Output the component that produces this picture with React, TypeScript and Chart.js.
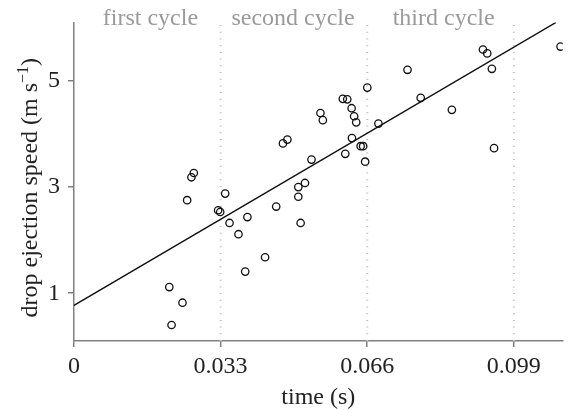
import React, { useEffect, useRef } from 'react';
import { Chart, registerables } from 'chart.js';

Chart.register(...registerables);

// ---- data ----
const timeS = [
  0.02145, 0.02196, 0.02442, 0.02547, 0.02643, 0.02697, 0.03244, 0.03291, 0.03403, 0.03501,
  0.03702, 0.03854, 0.03903, 0.04301, 0.04551, 0.04703, 0.04803, 0.05049, 0.05049, 0.05101,
  0.05199, 0.05346, 0.05547, 0.05601, 0.0605, 0.06151, 0.06106, 0.06249, 0.06256, 0.06305,
  0.06352, 0.06452, 0.06508, 0.06553, 0.06602, 0.06852, 0.07507, 0.07804, 0.08505, 0.09205,
  0.09301, 0.09406, 0.09455, 0.10952,
];
const speed = [
  1.116, 0.401, 0.821, 2.752, 3.183, 3.264, 2.562, 2.53, 2.876, 2.323,
  2.111, 1.407, 2.434, 1.677, 2.632, 3.821, 3.893, 2.998, 2.817, 2.323,
  3.076, 3.516, 4.394, 4.259, 4.66, 4.651, 3.625, 4.484, 3.921, 4.333,
  4.218, 3.769, 3.769, 3.477, 4.872, 4.194, 5.207, 4.68, 4.453, 5.59,
  5.516, 5.226, 3.732, 5.645,
];
const fitX = [0, 0.1085];
const fitY = [0.77, 6.1];
const cycleBounds = [0.033, 0.066, 0.099];
const cycleLabels = ['first cycle', 'second cycle', 'third cycle'];
const cycleLabelX = [0.0172, 0.0493, 0.0832];
const xTicks = [0, 0.033, 0.066, 0.099];
const xTickLabels = ['0', '0.033', '0.066', '0.099'];
const yTicks = [1, 3, 5];
const yTickLabels = ['1', '3', '5'];
const xRange = [0, 0.11];
const yRange = [0.1, 6.1];

const SERIF = "'Liberation Serif', 'Times New Roman', serif";
const FS = 24;

export default function App() {
  const ref = useRef<HTMLCanvasElement>(null);

  useEffect(() => {
    document.body.style.margin = '0';
    const canvas = ref.current;
    if (!canvas) return;

    const textPlugin = {
      id: 'extraTexts',
      afterDraw(chart: any) {
        const { ctx, scales, chartArea } = chart;
        const xs = scales.x;
        ctx.save();
        ctx.fillStyle = '#9a9a9a';
        ctx.font = `${FS}px ${SERIF}`;
        ctx.textAlign = 'center';
        ctx.textBaseline = 'alphabetic';
        cycleLabels.forEach((t, i) => {
          ctx.fillText(t, xs.getPixelForValue(cycleLabelX[i]), 25);
        });
        ctx.restore();

        // y-axis title with superscript
        ctx.save();
        ctx.fillStyle = '#222';
        ctx.textBaseline = 'alphabetic';
        ctx.textAlign = 'left';
        ctx.translate(37, (chartArea.top + chartArea.bottom) / 2 + 6);
        ctx.rotate(-Math.PI / 2);
        const main = 'drop ejection speed (m s';
        const sup = '\u22121';
        const close = ')';
        ctx.font = `${FS}px ${SERIF}`;
        const wMain = ctx.measureText(main).width;
        const wClose = ctx.measureText(close).width;
        ctx.font = `16px ${SERIF}`;
        const wSup = ctx.measureText(sup).width;
        const total = wMain + wSup + wClose;
        let cx = -total / 2;
        ctx.font = `${FS}px ${SERIF}`;
        ctx.fillText(main, cx, 0);
        cx += wMain;
        ctx.font = `16px ${SERIF}`;
        ctx.fillText(sup, cx, -9);
        cx += wSup;
        ctx.font = `${FS}px ${SERIF}`;
        ctx.fillText(close, cx, 0);
        ctx.restore();
      },
    };

    const dividerSets = cycleBounds.map((b) => ({
      type: 'line' as const,
      data: [
        { x: b, y: yRange[0] },
        { x: b, y: yRange[1] },
      ],
      borderColor: '#bdbdbd',
      borderWidth: 2,
      borderDash: [1, 5.7],
      pointRadius: 0,
      showLine: true,
      order: 3,
    }));

    const chart = new Chart(canvas, {
      type: 'scatter',
      data: {
        datasets: [
          {
            type: 'scatter',
            data: timeS.map((t, i) => ({ x: t, y: speed[i] })),
            borderColor: '#111',
            backgroundColor: 'rgba(0,0,0,0)',
            borderWidth: 1.3,
            pointRadius: 3.7,
            pointStyle: 'circle',
            order: 1,
          } as any,
          {
            type: 'line',
            data: fitX.map((t, i) => ({ x: t, y: fitY[i] })),
            borderColor: '#111',
            borderWidth: 1.4,
            pointRadius: 0,
            showLine: true,
            order: 2,
          } as any,
          ...(dividerSets as any[]),
        ],
      },
      options: {
        responsive: false,
        animation: false,
        devicePixelRatio: 1,
        layout: { padding: { top: 17, right: 0, left: 0, bottom: 0 } },
        plugins: {
          legend: { display: false },
          tooltip: { enabled: false },
        },
        scales: {
          x: {
            type: 'linear',
            min: xRange[0],
            max: xRange[1],
            afterBuildTicks: (scale: any) => {
              scale.ticks = xTicks.map((v) => ({ value: v }));
            },
            afterFit: (scale: any) => {
              scale.height = 69;
            },
            ticks: {
              color: '#222',
              font: { family: SERIF, size: FS },
              padding: 5,
              maxRotation: 0,
              autoSkip: false,
              callback: (v: any) => {
                const i = xTicks.indexOf(Number(v));
                return i >= 0 ? xTickLabels[i] : '';
              },
            },
            grid: {
              drawOnChartArea: false,
              drawTicks: true,
              tickLength: 6,
              color: '#808080',
              lineWidth: 1.5,
            },
            border: { display: true, color: '#808080', width: 1.5 },
            title: {
              display: true,
              text: 'time (s)',
              color: '#222',
              font: { family: SERIF, size: FS },
              padding: { top: 0, bottom: -2 },
            },
          },
          y: {
            type: 'linear',
            min: yRange[0],
            max: yRange[1],
            afterBuildTicks: (scale: any) => {
              scale.ticks = yTicks.map((v) => ({ value: v }));
            },
            afterFit: (scale: any) => {
              scale.width = 74;
            },
            ticks: {
              color: '#222',
              font: { family: SERIF, size: FS },
              padding: 8,
              autoSkip: false,
              callback: (v: any) => {
                const i = yTicks.indexOf(Number(v));
                return i >= 0 ? yTickLabels[i] : '';
              },
            },
            grid: {
              drawOnChartArea: false,
              drawTicks: true,
              tickLength: 6,
              color: '#808080',
              lineWidth: 1.5,
            },
            border: { display: true, color: '#808080', width: 1.5 },
          },
        },
      },
      plugins: [textPlugin],
    } as any);

    return () => {
      chart.destroy();
    };
  }, []);

  return (
    <div style={{ position: 'absolute', left: 0, top: 0, width: 568, height: 410 }}>
      <canvas ref={ref} width={568} height={410} style={{ display: 'block', width: 568, height: 410 }} />
    </div>
  );
}
